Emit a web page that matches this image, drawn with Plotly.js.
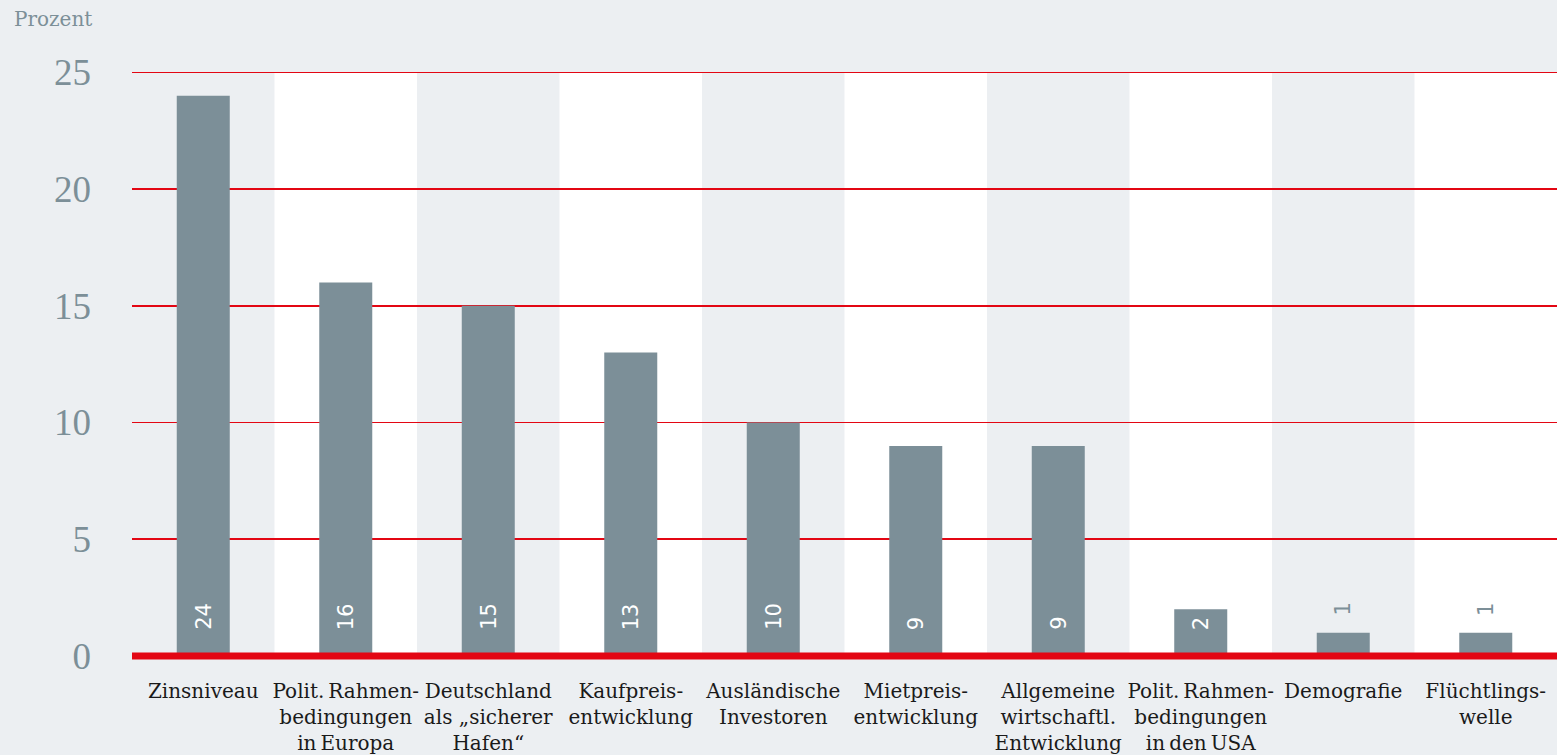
<!DOCTYPE html>
<html>
<head>
<meta charset="utf-8">
<script src="https://cdn.plot.ly/plotly-3.0.1.min.js"></script>
<style>html,body{margin:0;padding:0;background:#eceff2;}#chart{width:1557px;height:755px;}</style>
</head>
<body>
<div id="chart"></div>
<script>
var categories = [
  "Zinsniveau",
  "Polit.\u2009Rahmen-<br>bedingungen<br>in\u2009Europa",
  "Deutschland<br>als „sicherer<br>Hafen“",
  "Kaufpreis-<br>entwicklung",
  "Ausländische<br>Investoren",
  "Mietpreis-<br>entwicklung",
  "Allgemeine<br>wirtschaftl.<br>Entwicklung",
  "Polit.\u2009Rahmen-<br>bedingungen<br>in\u2009den\u2009USA",
  "Demografie",
  "Flüchtlings-<br>welle"
];
var values = [24, 16, 15, 13, 10, 9, 9, 2, 1, 1];
var yTicks = [0, 5, 10, 15, 20, 25];

var GRAY = "#7c8f98";
var RED = "#e30613";
var BG = "#eceff2";

var trace = {
  type: "bar",
  x: categories,
  y: values,
  marker: {color: GRAY},
  hoverinfo: "none"
};

var shapes = [];
categories.forEach(function(c, i){
  if (i % 2 === 1) {
    shapes.push({type: "rect", xref: "x", yref: "y", x0: i - 0.5, x1: i + 0.5, y0: 0, y1: 25,
      fillcolor: "#ffffff", line: {width: 0}, layer: "below"});
  }
});
shapes.push({type: "line", xref: "paper", yref: "paper", x0: 0, x1: 1, y0: 0, y1: 0,
  line: {color: RED, width: 7}, layer: "above"});

var annotations = [];
values.forEach(function(v, i){
  var inside = v >= 2;
  annotations.push({
    x: categories[i], y: inside ? 0 : v, xref: "x", yref: "y",
    text: String(v), showarrow: false, textangle: -90,
    yanchor: "bottom", xanchor: "center",
    yshift: inside ? 24 : 15,
    font: {family: "DejaVu Sans", size: 21, color: inside ? "#ffffff" : GRAY}
  });
});
annotations.push({
  xref: "paper", yref: "paper", x: 0, y: 1, xshift: -120, yshift: 51,
  xanchor: "left", yanchor: "middle", showarrow: false, text: "Prozent",
  font: {family: "DejaVu Serif", size: 20, color: GRAY}
});

var layout = {
  width: 1557, height: 755,
  margin: {l: 132, r: 0, t: 70, b: 99, pad: 0},
  paper_bgcolor: BG, plot_bgcolor: BG,
  showlegend: false,
  bargap: 0.628,
  xaxis: {
    type: "category", showgrid: false, zeroline: false, showline: false, ticks: "",
    tickfont: {family: "DejaVu Serif", size: 20, color: "#1a1a1a"},
    ticklabelstandoff: 21, fixedrange: true
  },
  yaxis: {
    range: [0, 25.1], tickvals: yTicks, ticktext: yTicks.map(String),
    showgrid: true, gridcolor: RED, gridwidth: 1.6, zeroline: false, showline: false, ticks: "",
    tickfont: {family: "Liberation Serif", size: 37, color: GRAY},
    ticklabelstandoff: 40, fixedrange: true
  },
  shapes: shapes,
  annotations: annotations
};

Plotly.newPlot("chart", [trace], layout, {displayModeBar: false, staticPlot: true});
</script>
</body>
</html>
